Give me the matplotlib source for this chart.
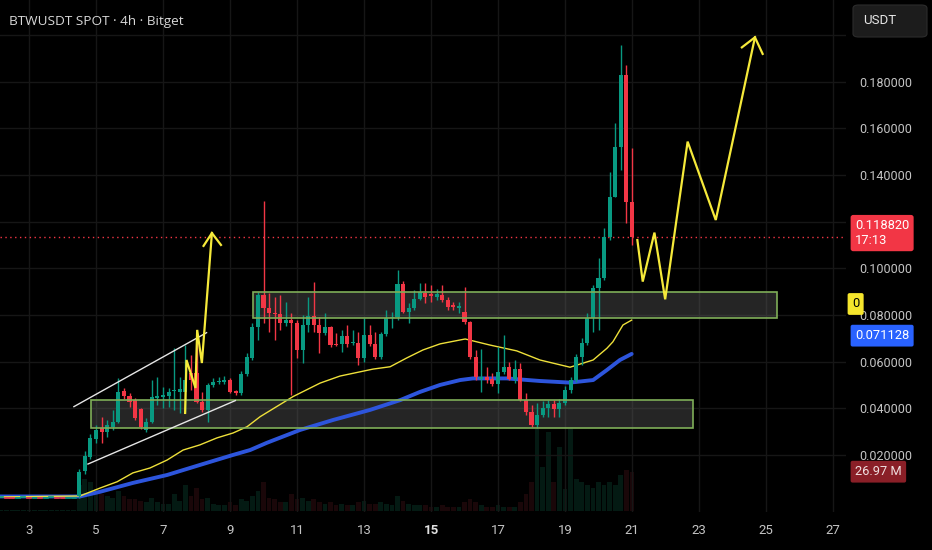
import matplotlib
matplotlib.use("Agg")
import matplotlib.pyplot as plt
from matplotlib.patches import Rectangle, FancyBboxPatch
from matplotlib.transforms import blended_transform_factory

# 4h candles, first real bar on the 4th at 12:00
opens = [.0024, .0131, .0191, .0268, .0315, .0298, .0320, .0341, .0474, .0453,
         .0435, .0397, .0307, .0341, .0444, .0448, .0453, .0474, .0470, .0470,
         .0551, .0551, .0427, .0393, .0500, .0513, .0513, .0521, .0474, .0465,
         .0547, .0616, .0748, .0886, .0830, .0808, .0804, .0766, .0778, .0766,
         .0650, .0757, .0796, .0757, .0723, .0748, .0676, .0676, .0710, .0680,
         .0680, .0616, .0714, .0676, .0620, .0718, .0787, .0791, .0933, .0813,
         .0830, .0868, .0894, .0890, .0877, .0886, .0864, .0843, .0830, .0813,
         .0770, .0620, .0526, .0534, .0526, .0504, .0556, .0577, .0526, .0568,
         .0435, .0384, .0328, .0371, .0401, .0418, .0397, .0423, .0478, .0521,
         .0620, .0680, .0787, .0916, .0958, .1134, .1306, .1520, .1829, .1284]
highs = [.0140, .0217, .0290, .0328, .0363, .0350, .0393, .0530, .0487, .0465,
         .0444, .0400, .0358, .0521, .0534, .0491, .0487, .0658, .0534, .0671,
         .0628, .0684, .0470, .0508, .0530, .0534, .0538, .0530, .0478, .0560,
         .0637, .0766, .0898, .1288, .0894, .0877, .0886, .0856, .0808, .0778,
         .0800, .0877, .0941, .0791, .0808, .0753, .0723, .0736, .0757, .0736,
         .0727, .0787, .0757, .0727, .0727, .0821, .0813, .0993, .0946, .0851,
         .0907, .0937, .0937, .0928, .0911, .0928, .0877, .0856, .0856, .0920,
         .0774, .0650, .0654, .0577, .0551, .0663, .0714, .0598, .0607, .0594,
         .0465, .0414, .0423, .0431, .0435, .0435, .0440, .0495, .0534, .0633,
         .0701, .0808, .0928, .1044, .1173, .1413, .1623, .1957, .1871, .1516]
lows = [.0015, .0118, .0183, .0251, .0251, .0277, .0307, .0337, .0440, .0405,
        .0350, .0311, .0298, .0337, .0414, .0401, .0405, .0393, .0380, .0384,
        .0478, .0423, .0384, .0341, .0491, .0504, .0504, .0465, .0457, .0457,
        .0538, .0607, .0693, .0766, .0727, .0693, .0736, .0753, .0457, .0616,
        .0594, .0727, .0727, .0637, .0714, .0663, .0667, .0641, .0663, .0671,
        .0586, .0598, .0667, .0611, .0611, .0710, .0744, .0778, .0808, .0766,
        .0821, .0864, .0851, .0856, .0864, .0856, .0821, .0821, .0808, .0761,
        .0611, .0521, .0470, .0508, .0495, .0465, .0547, .0521, .0508, .0431,
        .0371, .0320, .0315, .0363, .0363, .0363, .0363, .0414, .0465, .0513,
        .0586, .0671, .0727, .0736, .0950, .1121, .1306, .1421, .1194, .1100]
closes = [.0127, .0195, .0273, .0307, .0298, .0328, .0341, .0470, .0453, .0427,
          .0358, .0320, .0341, .0448, .0453, .0457, .0470, .0478, .0483, .0521,
          .0521, .0427, .0393, .0500, .0513, .0517, .0521, .0470, .0465, .0547,
          .0620, .0748, .0886, .0830, .0808, .0804, .0766, .0778, .0766, .0650,
          .0757, .0796, .0757, .0723, .0748, .0671, .0671, .0710, .0676, .0684,
          .0616, .0714, .0676, .0620, .0718, .0787, .0791, .0933, .0813, .0830,
          .0868, .0898, .0877, .0881, .0890, .0864, .0834, .0834, .0838, .0770,
          .0620, .0534, .0534, .0521, .0504, .0556, .0577, .0526, .0568, .0435,
          .0384, .0328, .0371, .0401, .0418, .0397, .0423, .0478, .0521, .0620,
          .0680, .0787, .0916, .0958, .1134, .1306, .1520, .1829, .1284, .1134]
volumes = [18, 22, 20, 15, 12, 10, 9, 14, 10, 8,
           8, 7, 6, 9, 6, 5, 5, 12, 7, 18,
           10, 16, 8, 9, 5, 4, 4, 6, 4, 8,
           7, 10, 14, 20, 9, 8, 6, 6, 12, 8,
           9, 7, 8, 6, 5, 6, 4, 5, 4, 4,
           6, 7, 5, 5, 6, 5, 4, 10, 7, 5,
           4, 4, 4, 3, 3, 4, 3, 3, 3, 6,
           8, 6, 4, 3, 3, 4, 3, 3, 3, 6,
           12, 20, 56, 30, 54, 20, 44, 15, 56, 22,
           20, 18, 16, 20, 18, 20, 18, 25, 28, 26.97]

# flat bars before trading really started
pre_opens = [.0017, .0018, .0017, .0016, .0017, .0018, .0017, .0017, .0016, .0017, .0018, .0017, .0016, .0017]
pre_closes = [.0018, .0017, .0016, .0017, .0018, .0017, .0017, .0016, .0017, .0018, .0017, .0016, .0017, .0017]

# moving averages (day, price)
ma_slow_days = [2.13, 4.52, 5.12, 6.10, 7.12, 8.10, 9.09, 9.60, 10.10, 11.09, 12.08, 13.18,
                14.08, 14.67, 15.27, 15.87, 16.25, 17.26, 18.25, 19.15, 19.84, 20.25, 20.64, 20.99]
ma_slow = [.0022, .0022, .0042, .0080, .0114, .0157, .0200, .0221, .0252, .0307, .0350, .0393,
           .0435, .0470, .0500, .0521, .0528, .0528, .0517, .0510, .0521, .0564, .0607, .0633]
ma_fast_days = [2.13, 4.52, 5.12, 5.63, 6.10, 6.61, 7.12, 7.60, 8.10, 8.61, 9.09, 9.51, 9.90,
                10.88, 11.69, 12.28, 13.27, 13.78, 14.28, 14.76, 15.27, 16.02, 16.76, 17.56,
                18.25, 19.15, 19.84, 20.25, 20.43, 20.73, 20.99]
ma_fast = [.0020, .0024, .0058, .0085, .0123, .0144, .0178, .0221, .0243, .0273, .0294, .0321, .0364,
           .0450, .0508, .0538, .0568, .0578, .0616, .0650, .0676, .0697, .0671, .0646,
           .0607, .0576, .0607, .0657, .0685, .0757, .0778]

# drawings: zones (day from, day to, low, high), channel, projected paths
zone_upper = (9.69, 25.33, 0.0787, 0.0898)
zone_lower = (4.85, 22.82, 0.0314, 0.0436)
chan_top_days, chan_top = [4.34, 8.30], [0.0407, 0.0724]
chan_bot_days, chan_bot = [4.76, 9.16], [0.0161, 0.0433]
path1_days = [7.66, 7.70, 7.97, 8.02, 8.16, 8.46]
path1 = [0.0380, 0.0607, 0.0487, 0.0736, 0.0594, 0.1151]
head1_days, head1 = [8.21, 8.46, 8.73], [0.1096, 0.1151, 0.1100]
path2_days = [21.16, 21.32, 21.67, 21.99, 22.66, 23.50, 24.67]
path2 = [0.1121, 0.0943, 0.1153, 0.0867, 0.1543, 0.1207, 0.1990]
head2_days, head2 = [24.28, 24.67, 24.90], [0.1947, 0.1990, 0.1919]

price_ticks = [0.02, 0.04, 0.06, 0.08, 0.10, 0.12, 0.14, 0.16, 0.18, 0.20]
price_labels = ["0.020000", "0.040000", "0.060000", "0.080000", "0.100000", "", "0.140000",
                "0.160000", "0.180000", ""]
day_ticks = [3, 5, 7, 9, 11, 13, 15, 17, 19, 21, 23, 25, 27]

GREEN = "#089981"
RED = "#f23645"
BG = "#000000"

W, H = 932, 550
fig = plt.figure(figsize=(9.32, 5.5), dpi=100, facecolor=BG)
rect = [0, (H - 512) / H, 846 / W, 512 / H]

axv = fig.add_axes(rect, zorder=0)
ax = fig.add_axes(rect, zorder=1, sharex=axv)
ax.patch.set_alpha(0)
axv.set_facecolor(BG)

days = [4.5 + i / 6 for i in range(len(closes))]
pre_days = [4.5 - (len(pre_opens) - k) / 6 for k in range(len(pre_opens))]

# volume pane (barely visible in the original)
vcol = ["#041a13" if c >= o else "#1a0709" for o, c in zip(opens, closes)]
axv.bar(days, volumes, width=0.14, color=vcol)
axv.bar(pre_days, [0.6] * len(pre_days), width=0.14, color="#041a13")
axv.set_ylim(-0.69, 350.7)
axv.axis("off")

ax.set_xlim(2.134, 27.388)
ax.set_ylim(-0.00446, 0.2150)

# grid
for d in day_ticks:
    ax.axvline(d, color="#161616", lw=1, zorder=0)
for p in price_ticks:
    ax.axhline(p, color="#161616", lw=1, zorder=0)

# zones
for d0, d1, lo, hi in [zone_upper, zone_lower]:
    ax.add_patch(Rectangle((d0, lo), d1 - d0, hi - lo, facecolor="#5a5a5a", alpha=0.42,
                           edgecolor="none", zorder=1))
    ax.add_patch(Rectangle((d0, lo), d1 - d0, hi - lo, facecolor="none",
                           edgecolor="#7fae58", lw=1.2, zorder=5))

# moving averages
ax.plot(ma_slow_days, ma_slow, color="#2d55dc", lw=2.8, zorder=3, solid_capstyle="round")
ax.plot(ma_fast_days, ma_fast, color="#eee03a", lw=1.0, zorder=3)

# pre-listing flat bars
for d, o, c in zip(pre_days, pre_opens, pre_closes):
    ax.plot([d - 0.06, d + 0.06], [c, c], color=GREEN if c >= o else RED, lw=1.2, zorder=4)

# candles
for d, o, h, l, c in zip(days, opens, highs, lows, closes):
    col = GREEN if c >= o else RED
    ax.vlines(d, l, h, color=col, lw=1, zorder=4)
    ax.bar(d, max(abs(c - o), 0.0006), bottom=min(o, c), width=0.12, color=col, zorder=4)

# channel + projections
ax.plot(chan_top_days, chan_top, color="#e6e6e6", lw=1, zorder=6)
ax.plot(chan_bot_days, chan_bot, color="#e6e6e6", lw=1, zorder=6)
for xs, ys in [(path1_days, path1), (head1_days, head1), (path2_days, path2), (head2_days, head2)]:
    ax.plot(xs, ys, color="#f5e93a", lw=1.6, zorder=7, solid_joinstyle="miter")

# last price line
ax.axhline(closes[-1], color=RED, lw=1, ls=(0, (1, 2.5)), zorder=2)

# axes styling
for s in ax.spines.values():
    s.set_visible(False)
ax.yaxis.tick_right()
ax.set_yticks(price_ticks)
ax.set_yticklabels(price_labels)
ax.set_xticks(day_ticks)
ax.set_xticklabels([str(d) for d in day_ticks])
ax.tick_params(axis="y", length=0, pad=9.5, labelsize=9, labelcolor="#c4c4c4")
ax.tick_params(axis="x", length=0, pad=9, labelsize=9.5, labelcolor="#c4c4c4")
for t in ax.get_yticklabels() + ax.get_xticklabels():
    t.set_fontfamily("Roboto")
for t in ax.get_xticklabels():
    if t.get_text() == "15":
        t.set_fontweight("bold")
        t.set_color("#e0e0e0")

# price-scale tags
tr = blended_transform_factory(fig.transFigure, ax.transData)
trv = blended_transform_factory(fig.transFigure, axv.transData)
x_tag = 855 / W
ax.text(x_tag, closes[-1] + 0.0017, "0.118820\n17:13", transform=tr, ha="left", va="center",
        fontsize=9.3, family="Roboto", color="white", linespacing=1.15, clip_on=False, zorder=10,
        bbox=dict(boxstyle="round,pad=0.34,rounding_size=0.2", fc="#f23645", ec="none"))
ax.text(852 / W, 0.0847, "0", transform=tr, ha="left", va="center", fontsize=9.3, family="Roboto",
        color="black", clip_on=False, zorder=11,
        bbox=dict(boxstyle="round,pad=0.34,rounding_size=0.15", fc="#f5e52c", ec="none"))
ax.text(x_tag, 0.071128, "0.071128", transform=tr, ha="left", va="center", fontsize=9.3,
        family="Roboto", color="white", clip_on=False, zorder=10,
        bbox=dict(boxstyle="round,pad=0.34,rounding_size=0.15", fc="#2962ff", ec="none"))
axv.text(x_tag, volumes[-1], "26.97 M", transform=trv, ha="left", va="center", fontsize=9.3,
         family="Roboto", color="#f0e0e0", clip_on=False, zorder=10,
         bbox=dict(boxstyle="round,pad=0.34,rounding_size=0.15", fc="#8a1f27", ec="none"))

# currency button
fig.patches.append(FancyBboxPatch((853 / W, (H - 37) / H), 74 / W, 32 / H,
                                  boxstyle="round,pad=0,rounding_size=0.006",
                                  transform=fig.transFigure, fc="#1c1c1c", ec="#2c2c2c", lw=0.8))
fig.text(863 / W, 1 - 21 / H, "USDT", ha="left", va="center", fontsize=9.5, family="Roboto",
         color="#e6e6e6")

fig.text(9 / W, 1 - 22 / H, "BTWUSDT SPOT · 4h · Bitget", ha="left", va="center",
         fontsize=9.7, family="Open Sans", color="#d8d8d8")

fig.savefig("out.png", dpi=100, facecolor=BG)
